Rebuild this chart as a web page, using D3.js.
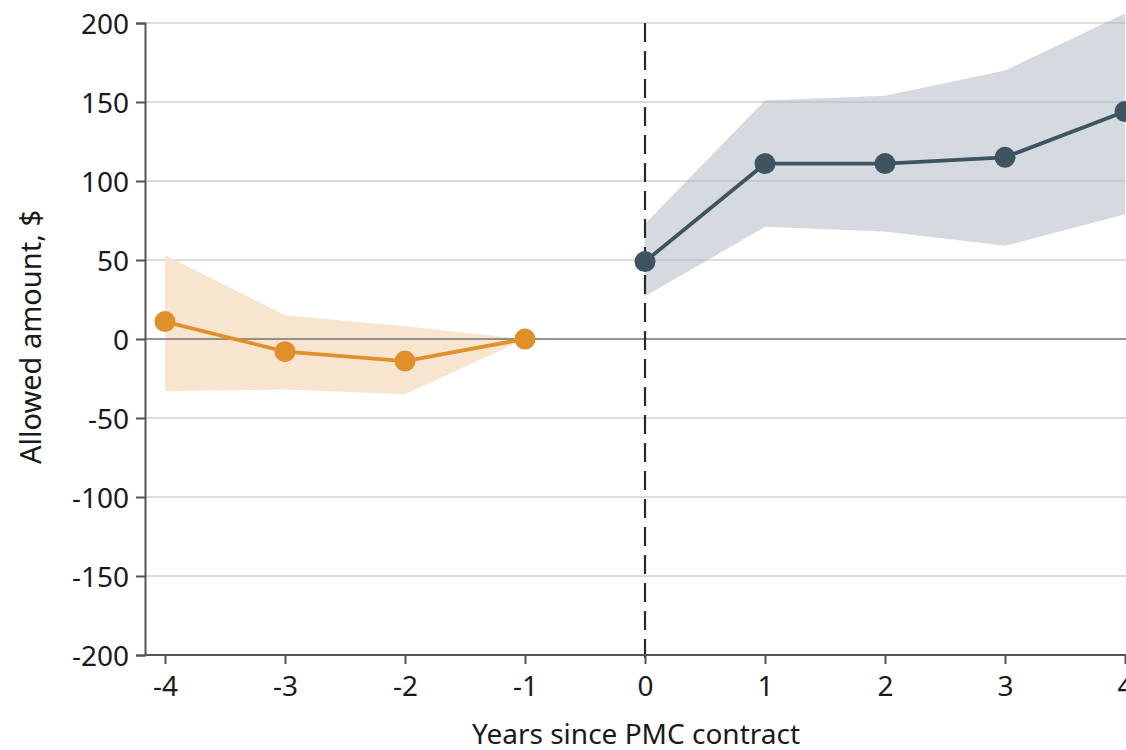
<!DOCTYPE html>
<html>
<head>
<meta charset="utf-8">
<script src="https://cdn.jsdelivr.net/npm/d3@7"></script>
<style>
  body { margin: 0; background: #fff; }
  svg text { font-family: "Noto Sans", sans-serif; fill: #1a1a1a; }
</style>
</head>
<body>
<script>
// pre-contract years (orange) and post-contract years (slate)
var preYears = [-4, -3, -2, -1];
var preEst = [11, -8, -14, 0];
var preLow = [-33, -32, -35, 0];
var preHigh = [53, 15, 8, 0];

var postYears = [0, 1, 2, 3, 4];
var postEst = [49, 111, 111, 115, 144];
var postLow = [27, 71, 68, 59, 79];
var postHigh = [73, 151, 154, 170, 206];

var xTicks = [-4, -3, -2, -1, 0, 1, 2, 3, 4];
var yTicks = [-200, -150, -100, -50, 0, 50, 100, 150, 200];

var W = 1126, H = 750;
var plotLeft = 145, plotTop = 23, plotBottom = 655;

var svg = d3.select('body').append('svg')
  .attr('width', W)
  .attr('height', H);

var x = d3.scaleLinear().domain([-4, 4]).range([165, 1125]);
var y = d3.scaleLinear().domain([-200, 200]).range([plotBottom, plotTop]);

// gridlines
svg.append('g')
  .selectAll('line')
  .data(yTicks.filter(function(d) { return d !== 0 && d !== -200; }))
  .enter().append('line')
  .attr('x1', plotLeft).attr('x2', W)
  .attr('y1', function(d) { return y(d); })
  .attr('y2', function(d) { return y(d); })
  .attr('stroke', '#dcdcdc')
  .attr('stroke-width', 2);

function drawBand(years, est, low, high, band) {
  var pts = years.map(function(d, i) {
    return { x: d, e: est[i], lo: low[i], hi: high[i] };
  });
  var area = d3.area()
    .x(function(d) { return x(d.x); })
    .y0(function(d) { return y(d.lo); })
    .y1(function(d) { return y(d.hi); });
  svg.append('path')
    .datum(pts)
    .attr('d', area)
    .attr('fill', band);
  return pts;
}

var prePts = drawBand(preYears, preEst, preLow, preHigh, '#f7e5d0');
var postPts = drawBand(postYears, postEst, postLow, postHigh, 'rgba(170,182,194,0.5)');

// zero line
svg.append('line')
  .attr('x1', plotLeft).attr('x2', W)
  .attr('y1', y(0)).attr('y2', y(0))
  .attr('stroke', '#707070')
  .attr('stroke-width', 1.5);

// dashed contract line
svg.append('line')
  .attr('x1', x(0)).attr('x2', x(0))
  .attr('y1', plotTop).attr('y2', plotBottom + 9)
  .attr('stroke', '#2a2a2a')
  .attr('stroke-width', 2.2)
  .attr('stroke-dasharray', '19,9');

function drawLine(pts, col) {
  var line = d3.line()
    .x(function(d) { return x(d.x); })
    .y(function(d) { return y(d.e); });
  svg.append('path')
    .datum(pts)
    .attr('d', line)
    .attr('fill', 'none')
    .attr('stroke', col)
    .attr('stroke-width', 3.8);
  svg.append('g')
    .selectAll('circle')
    .data(pts)
    .enter().append('circle')
    .attr('cx', function(d) { return x(d.x); })
    .attr('cy', function(d) { return y(d.e); })
    .attr('r', 10.5)
    .attr('fill', col);
}

drawLine(prePts, '#e0902b');
drawLine(postPts, '#3e5461');

var fmt = function(d) { return d < 0 ? '-' + Math.abs(d) : d; };

// y axis
var yAxis = svg.append('g')
  .attr('transform', 'translate(' + plotLeft + ',0)')
  .call(d3.axisLeft(y).tickValues(yTicks).tickSize(9).tickPadding(7).tickFormat(fmt));
yAxis.select('.domain').attr('stroke', '#555').attr('stroke-width', 2);
yAxis.selectAll('.tick line').attr('stroke', '#555').attr('stroke-width', 2);
yAxis.selectAll('text').style('font-size', '28px').attr('dy', '0.36em');

// x axis
var xAxis = svg.append('g')
  .attr('transform', 'translate(0,' + plotBottom + ')')
  .call(d3.axisBottom(x).tickValues(xTicks).tickSize(9).tickPadding(12).tickFormat(fmt));
xAxis.select('.domain').attr('d', 'M' + plotLeft + ',0H' + W)
  .attr('stroke', '#555').attr('stroke-width', 2);
xAxis.selectAll('.tick line').attr('stroke', '#555').attr('stroke-width', 2);
xAxis.selectAll('text').style('font-size', '28px');

// titles
svg.append('text')
  .attr('x', 636).attr('y', 744)
  .attr('text-anchor', 'middle')
  .style('font-size', '28px')
  .text('Years since PMC contract');

svg.append('text')
  .attr('transform', 'translate(41,337)rotate(-90)')
  .attr('text-anchor', 'middle')
  .style('font-size', '29px')
  .text('Allowed amount, $');
</script>
</body>
</html>
